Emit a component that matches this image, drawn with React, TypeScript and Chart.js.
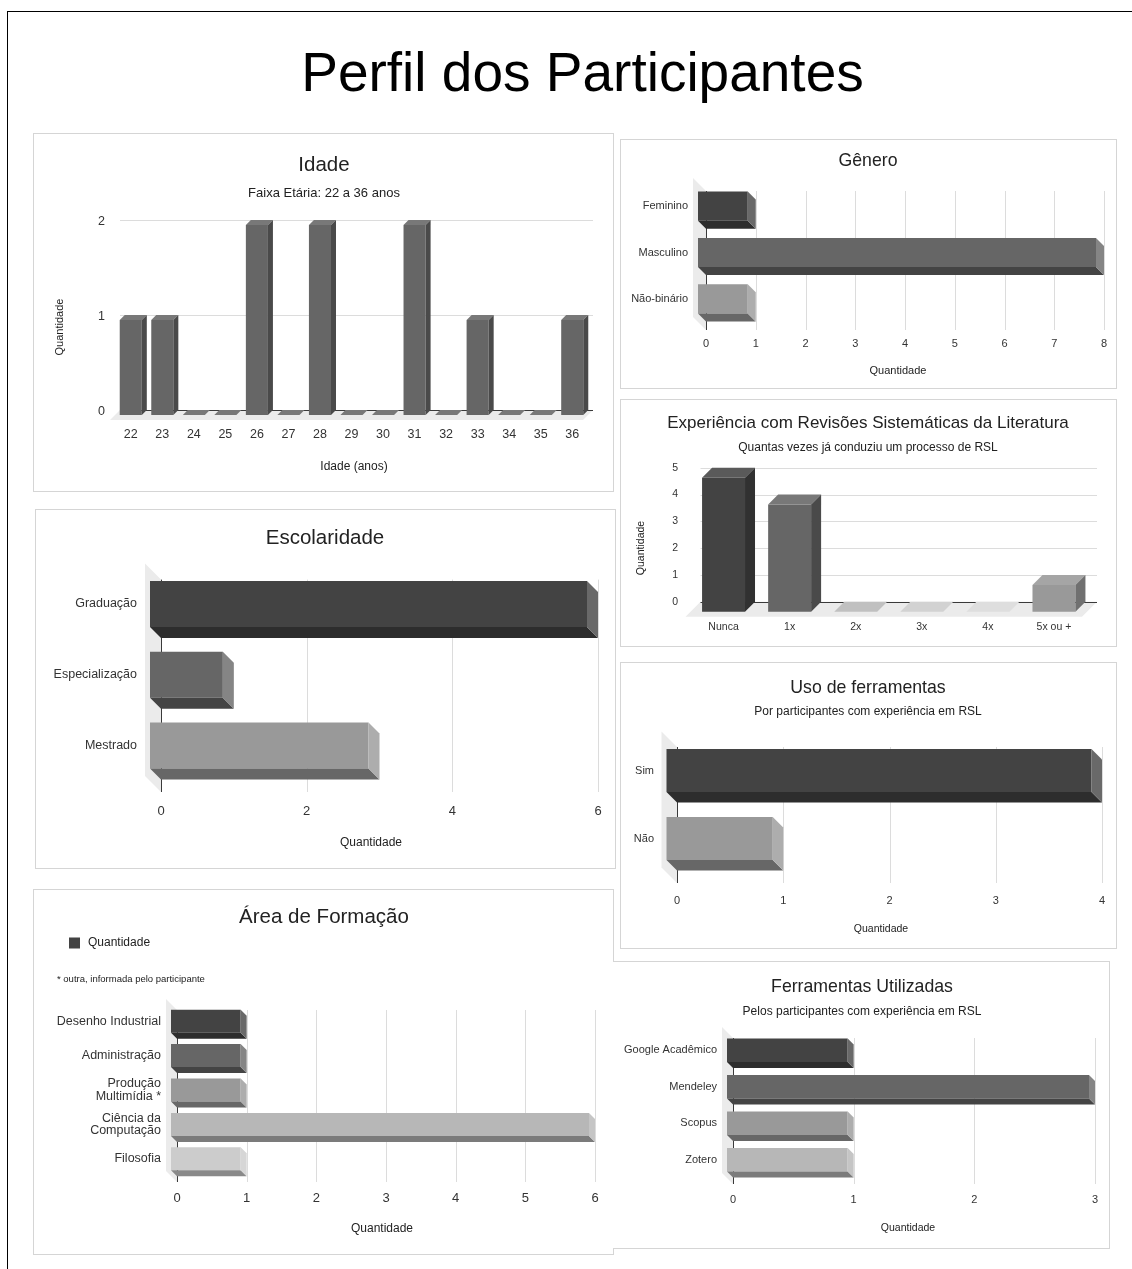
import React, { useEffect, useRef } from "react";
import { Chart, registerables } from "chart.js";

Chart.register(...registerables);

const W = 1132;
const H = 1269;
const FONT = '"Liberation Sans", Arial, Helvetica, sans-serif';

// ---------------- data ----------------
const idadeLabels = ["22", "23", "24", "25", "26", "27", "28", "29", "30", "31", "32", "33", "34", "35", "36"];
const idadeValues = [1, 1, 0, 0, 2, 0, 2, 0, 0, 2, 0, 1, 0, 0, 1];

const generoLabels = ["Feminino", "Masculino", "Não-binário"];
const generoValues = [1, 8, 1];

const experienciaLabels = ["Nunca", "1x", "2x", "3x", "4x", "5x ou +"];
const experienciaValues = [5, 4, 0, 0, 0, 1];

const escolaridadeLabels = ["Graduação", "Especialização", "Mestrado"];
const escolaridadeValues = [6, 1, 3];

const usoLabels = ["Sim", "Não"];
const usoValues = [4, 1];

const areaLabels = [["Desenho Industrial"], ["Administração"], ["Produção", "Multimídia *"], ["Ciência da", "Computação"], ["Filosofia"]];
const areaValues = [1, 1, 1, 6, 1];

const ferramentasLabels = ["Google Acadêmico", "Mendeley", "Scopus", "Zotero"];
const ferramentasValues = [1, 3, 1, 1];

// ---------------- styles ----------------
const idadeColors = idadeValues.map(() => "#666666");
const generoColors = ["#434343", "#666666", "#999999"];
const experienciaColors = ["#434343", "#666666", "#b7b7b7", "#cccccc", "#d9d9d9", "#999999"];
const escolaridadeColors = ["#434343", "#666666", "#999999"];
const usoColors = ["#434343", "#999999"];
const areaColors = ["#434343", "#666666", "#999999", "#b7b7b7", "#cccccc"];
const ferramentasColors = ["#434343", "#666666", "#999999", "#b7b7b7"];

function shade(hex: string, f: number) {
  const n = parseInt(hex.slice(1), 16);
  const r = (n >> 16) & 255, g = (n >> 8) & 255, b = n & 255;
  const adj = (c: number) => Math.round(f < 0 ? c * (1 + f) : c + (255 - c) * f);
  return `rgb(${adj(r)},${adj(g)},${adj(b)})`;
}

function poly(ctx: CanvasRenderingContext2D, pts: number[][], fill: string) {
  ctx.beginPath();
  ctx.moveTo(pts[0][0], pts[0][1]);
  for (let i = 1; i < pts.length; i++) ctx.lineTo(pts[i][0], pts[i][1]);
  ctx.closePath();
  ctx.fillStyle = fill;
  ctx.fill();
}

function line(ctx: CanvasRenderingContext2D, x1: number, y1: number, x2: number, y2: number, color: string) {
  ctx.beginPath();
  ctx.moveTo(x1, y1);
  ctx.lineTo(x2, y2);
  ctx.strokeStyle = color;
  ctx.lineWidth = 1;
  ctx.stroke();
}

const bars3d = {
  id: "bars3d",
  beforeDatasetsDraw(chart: any, _a: any, o: any) {
    const ctx = chart.ctx as CanvasRenderingContext2D;
    const { left: L, right: R, top: T, bottom: B } = chart.chartArea;
    const d = o.depth, e = o.extra;
    const horizontal = chart.options.indexAxis === "y";
    const vs = horizontal ? chart.scales.x : chart.scales.y;
    const p0 = vs.getPixelForValue(0);
    ctx.save();
    if (!horizontal) {
      poly(ctx, [[L + d, p0], [R + d, p0], [R - e, p0 + d + e], [L - e, p0 + d + e]], o.floorColor);
      vs.ticks.forEach((t: any) => {
        if (t.value === 0) return;
        const p = Math.round(vs.getPixelForValue(t.value)) + 0.5;
        line(ctx, L + d, p, R + d, p, o.gridColor);
      });
      const pb = Math.round(p0) + 0.5;
      line(ctx, L + d, pb, R + d, pb, o.axisColor);
    } else {
      poly(ctx, [[p0, T + d], [p0, B + d], [p0 - d - e, B - e], [p0 - d - e, T - e]], o.floorColor);
      vs.ticks.forEach((t: any) => {
        if (t.value === 0) return;
        const p = Math.round(vs.getPixelForValue(t.value)) + 0.5;
        line(ctx, p, T + d, p, B + d, o.gridColor);
      });
      const pb = Math.round(p0) + 0.5;
      line(ctx, pb, T + d, pb, B + d, o.axisColor);
    }
    ctx.restore();
  },
  beforeDatasetDraw(chart: any, args: any, o: any) {
    const ctx = chart.ctx as CanvasRenderingContext2D;
    const d = o.depth;
    const horizontal = chart.options.indexAxis === "y";
    const ds = chart.data.datasets[args.index];
    const meta = chart.getDatasetMeta(args.index);
    ctx.save();
    meta.data.forEach((el: any, i: number) => {
      const c = Array.isArray(ds.backgroundColor) ? ds.backgroundColor[i] : ds.backgroundColor;
      const p = el.getProps(["x", "y", "base", "width", "height"], true);
      if (!horizontal) {
        const x0 = p.x - p.width / 2, x1 = p.x + p.width / 2;
        const yTop = p.y + d, yBot = p.base + d;
        poly(ctx, [[x0, yTop], [x1, yTop], [x1, yBot], [x0, yBot]], c);
        poly(ctx, [[x0, yTop], [x0 + d, yTop - d], [x1 + d, yTop - d], [x1, yTop]], shade(c, 0.12));
        poly(ctx, [[x1, yTop], [x1 + d, yTop - d], [x1 + d, yBot - d], [x1, yBot]], shade(c, -0.27));
      } else {
        const x0 = p.base - d, x1 = p.x - d;
        const y0 = p.y - p.height / 2, y1 = p.y + p.height / 2;
        poly(ctx, [[x0, y0], [x1, y0], [x1, y1], [x0, y1]], c);
        poly(ctx, [[x0, y1], [x1, y1], [x1 + d, y1 + d], [x0 + d, y1 + d]], shade(c, -0.33));
        poly(ctx, [[x1, y0], [x1 + d, y0 + d], [x1 + d, y1 + d], [x1, y1]], shade(c, 0.2));
      }
    });
    ctx.restore();
    return false;
  },
};

const decor = {
  id: "decor",
  afterDraw(chart: any, _a: any, o: any) {
    const ctx = chart.ctx as CanvasRenderingContext2D;
    ctx.save();
    ctx.textBaseline = "middle";
    (o.texts || []).forEach((t: any) => {
      ctx.font = `${t.s}px ${FONT}`;
      ctx.fillStyle = t.c || "#222222";
      ctx.textAlign = t.align || "center";
      if (t.rot) {
        ctx.save();
        ctx.translate(t.x, t.y);
        ctx.rotate(-Math.PI / 2);
        ctx.fillText(t.t, 0, 0);
        ctx.restore();
      } else {
        ctx.fillText(t.t, t.x, t.y);
      }
    });
    if (o.legend) {
      const lg = o.legend;
      const ds = chart.data.datasets[0];
      const col = Array.isArray(ds.backgroundColor) ? ds.backgroundColor[0] : ds.backgroundColor;
      ctx.fillStyle = col;
      ctx.fillRect(lg.x, lg.y, lg.box, lg.box);
      ctx.font = `${lg.s}px ${FONT}`;
      ctx.fillStyle = "#222222";
      ctx.textAlign = "left";
      ctx.fillText(ds.label, lg.tx, lg.y + lg.box / 2);
    }
    ctx.restore();
  },
};

interface Panel { x: number; y: number; w: number; h: number; noLeft?: boolean }

interface Spec {
  panel: Panel;
  horizontal: boolean;
  labels: any[];
  values: number[];
  colors: string[];
  area: { L: number; T: number; R: number; B: number };
  max: number;
  step: number;
  depth: number;
  barPct: number;
  xFont: number;
  xLabelY: number;
  yFont: number;
  yLabelRight: number;
  yLabelOffset?: number;
  yLineHeight?: number;
  texts: any[];
  legend?: any;
}

function makeConfig(s: Spec): any {
  const { L, T, R, B } = s.area;
  const axLeft = s.panel.x + 2;
  const axBottom = s.panel.y + s.panel.h - 2;
  const yAxisW = L - axLeft;
  const xAxisH = axBottom - B;
  const xPad = s.xLabelY - B - 0.6 * s.xFont;
  const yPad = L - s.yLabelRight;
  const valueScale = { type: "linear", min: 0, max: s.max };
  const catScale = { type: "category", offset: true };
  return {
    type: "bar",
    data: {
      labels: s.labels,
      datasets: [{ label: "Quantidade", data: s.values, backgroundColor: s.colors, barPercentage: s.barPct, categoryPercentage: 1 }],
    },
    options: {
      indexAxis: s.horizontal ? "y" : "x",
      responsive: false,
      animation: false,
      devicePixelRatio: 1,
      events: [],
      layout: { padding: { left: axLeft, top: T, right: W - R, bottom: H - axBottom } },
      scales: {
        x: {
          ...(s.horizontal ? valueScale : catScale),
          grid: { display: false, drawTicks: false },
          border: { display: false },
          ticks: { font: { family: FONT, size: s.xFont }, color: "#333333", padding: xPad, maxRotation: 0, minRotation: 0, autoSkip: false, stepSize: s.step },
          afterFit: (sc: any) => { sc.height = xAxisH; },
        },
        y: {
          ...(s.horizontal ? catScale : valueScale),
          grid: { display: false, drawTicks: false },
          border: { display: false },
          ticks: {
            font: { family: FONT, size: s.yFont, lineHeight: s.yLineHeight || 1.2 },
            color: "#333333",
            padding: yPad,
            labelOffset: s.yLabelOffset || 0,
            autoSkip: false,
            stepSize: s.step,
          },
          afterFit: (sc: any) => { sc.width = yAxisW; },
        },
      },
      plugins: {
        legend: { display: false },
        tooltip: { enabled: false },
        title: { display: false },
        bars3d: { depth: s.depth, extra: 5, floorColor: "#ebebeb", gridColor: "#dcdcdc", axisColor: "#3a3a3a" },
        decor: { texts: s.texts, legend: s.legend },
      },
    },
    plugins: [bars3d, decor],
  };
}

const panels: Panel[] = [
  { x: 33, y: 133, w: 581, h: 359 },
  { x: 620, y: 139, w: 497, h: 250 },
  { x: 620, y: 399, w: 497, h: 248 },
  { x: 35, y: 509, w: 581, h: 360 },
  { x: 620, y: 662, w: 497, h: 287 },
  { x: 33, y: 889, w: 581, h: 366 },
  { x: 613, y: 961, w: 497, h: 288, noLeft: true },
];

const specs: Spec[] = [
  {
    panel: panels[0],
    horizontal: false, labels: idadeLabels, values: idadeValues, colors: idadeColors,
    area: { L: 115, T: 220, R: 588, B: 410 }, max: 2, step: 1, depth: 5, barPct: 0.7,
    xFont: 12.5, xLabelY: 434.5, yFont: 12.5, yLabelRight: 105, yLabelOffset: 1.5,
    texts: [
      { t: "Idade", x: 324, y: 165, s: 20.5 },
      { t: "Faixa Etária: 22 a 36 anos", x: 324, y: 193, s: 13 },
      { t: "Quantidade", x: 60, y: 327, s: 11, rot: true },
      { t: "Idade (anos)", x: 354, y: 467, s: 12 },
    ],
  },
  {
    panel: panels[1],
    horizontal: true, labels: generoLabels, values: generoValues, colors: generoColors,
    area: { L: 706, T: 183, R: 1104, B: 322 }, max: 8, step: 1, depth: 8, barPct: 0.63,
    xFont: 11, xLabelY: 344, yFont: 11, yLabelRight: 688,
    texts: [
      { t: "Gênero", x: 868, y: 161, s: 17.7 },
      { t: "Quantidade", x: 898, y: 371, s: 11 },
    ],
  },
  {
    panel: panels[2],
    horizontal: false, labels: experienciaLabels, values: experienciaValues, colors: experienciaColors,
    area: { L: 690.5, T: 467.7, R: 1087, B: 601.7 }, max: 5, step: 1, depth: 10, barPct: 0.65,
    xFont: 10.5, xLabelY: 627.5, yFont: 10.5, yLabelRight: 678,
    texts: [
      { t: "Experiência com Revisões Sistemáticas da Literatura", x: 868, y: 423, s: 17 },
      { t: "Quantas vezes já conduziu um processo de RSL", x: 868, y: 448, s: 12 },
      { t: "Quantidade", x: 641, y: 548, s: 10.5, rot: true },
    ],
  },
  {
    panel: panels[3],
    horizontal: true, labels: escolaridadeLabels, values: escolaridadeValues, colors: escolaridadeColors,
    area: { L: 161, T: 568.6, R: 598, B: 781 }, max: 6, step: 2, depth: 11, barPct: 0.65,
    xFont: 13, xLabelY: 811.5, yFont: 12.5, yLabelRight: 137,
    texts: [
      { t: "Escolaridade", x: 325, y: 538, s: 20.5 },
      { t: "Quantidade", x: 371, y: 843, s: 12 },
    ],
  },
  {
    panel: panels[4],
    horizontal: true, labels: usoLabels, values: usoValues, colors: usoColors,
    area: { L: 677, T: 736.5, R: 1102, B: 872.5 }, max: 4, step: 1, depth: 10.5, barPct: 0.63,
    xFont: 11, xLabelY: 901, yFont: 11, yLabelRight: 654,
    texts: [
      { t: "Uso de ferramentas", x: 868, y: 688, s: 17.7 },
      { t: "Por participantes com experiência em RSL", x: 868, y: 712, s: 12 },
      { t: "Quantidade", x: 881, y: 929, s: 10.5 },
    ],
  },
  {
    panel: panels[5],
    horizontal: true, labels: areaLabels, values: areaValues, colors: areaColors,
    area: { L: 177, T: 1004, R: 595, B: 1176 }, max: 6, step: 1, depth: 6, barPct: 0.67,
    xFont: 13, xLabelY: 1198, yFont: 12.5, yLabelRight: 161, yLineHeight: 1.0,
    texts: [
      { t: "Área de Formação", x: 324, y: 917, s: 20.5 },
      { t: "* outra, informada pelo participante", x: 57, y: 979, s: 9.5, align: "left" },
      { t: "Quantidade", x: 382, y: 1229, s: 12 },
    ],
    legend: { x: 69, y: 937.5, box: 11, tx: 88, s: 12 },
  },
  {
    panel: panels[6],
    horizontal: true, labels: ferramentasLabels, values: ferramentasValues, colors: ferramentasColors,
    area: { L: 733, T: 1032, R: 1095, B: 1178 }, max: 3, step: 1, depth: 6, barPct: 0.65,
    xFont: 11, xLabelY: 1200, yFont: 11, yLabelRight: 717,
    texts: [
      { t: "Ferramentas Utilizadas", x: 862, y: 987.5, s: 17.7 },
      { t: "Pelos participantes com experiência em RSL", x: 862, y: 1012, s: 12 },
      { t: "Quantidade", x: 908, y: 1228, s: 10.5 },
    ],
  },
];

function ChartCanvas({ spec }: { spec: Spec }) {
  const ref = useRef<HTMLCanvasElement | null>(null);
  useEffect(() => {
    if (!ref.current) return;
    const chart = new Chart(ref.current, makeConfig(spec));
    return () => chart.destroy();
  }, [spec]);
  return (
    <canvas
      ref={ref}
      width={W}
      height={H}
      style={{ position: "absolute", left: 0, top: 0, width: W, height: H }}
    />
  );
}

export default function App() {
  return (
    <div
      style={{
        position: "absolute",
        left: 0,
        top: 0,
        width: W,
        height: H,
        background: "#ffffff",
        overflow: "hidden",
        fontFamily: FONT,
      }}
    >
      <div
        style={{
          position: "absolute",
          left: 7,
          top: 11,
          width: W + 100,
          height: H + 100,
          borderTop: "1px solid #000",
          borderLeft: "1px solid #000",
        }}
      />
      <div
        style={{
          position: "absolute",
          left: 0,
          top: 45,
          width: 1165,
          textAlign: "center",
          fontSize: 55,
          lineHeight: "55px",
          color: "#000",
        }}
      >
        Perfil dos Participantes
      </div>
      {panels.map((p, i) => (
        <div
          key={i}
          style={{
            position: "absolute",
            left: p.x,
            top: p.y,
            width: p.w,
            height: p.h,
            boxSizing: "border-box",
            background: "#ffffff",
            borderTop: "1px solid #d5d5d5",
            borderRight: "1px solid #d5d5d5",
            borderBottom: "1px solid #d5d5d5",
            borderLeft: p.noLeft ? "none" : "1px solid #d5d5d5",
          }}
        />
      ))}
      {specs.map((s, i) => (
        <ChartCanvas key={i} spec={s} />
      ))}
    </div>
  );
}
